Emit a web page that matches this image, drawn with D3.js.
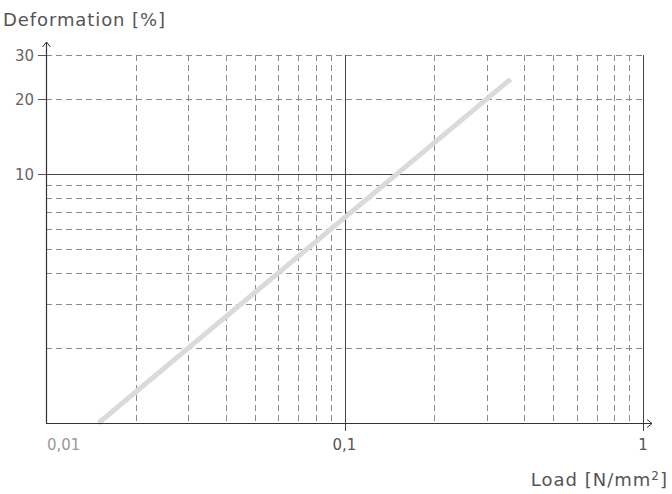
<!DOCTYPE html>
<html><head><meta charset="utf-8">
<script src="https://cdn.jsdelivr.net/npm/d3@7"></script>
<style>
body{margin:0;background:#fff;}
text{font-family:"DejaVu Sans",Roboto,sans-serif;fill:#555;}
</style></head>
<body><svg id="c" width="672" height="494"></svg>
<script>
// Data
const loads = [0.015, 0.36];          // N/mm²
const deformations = [1, 24];         // %
const xMajor = [0.01, 0.1, 1];
const xLabels = ["0,01", "0,1", "1"];
const yMajor = [10, 20, 30];
const yLabels = ["10", "20", "30"];
const xMinor = [0.02,0.03,0.04,0.05,0.06,0.07,0.08,0.09,0.2,0.3,0.4,0.5,0.6,0.7,0.8,0.9];
const yMinor = [2,3,4,5,6,7,8,9,20,30];

const svg = d3.select("#c");
const x = d3.scaleLog().domain([0.01, 1]).range([46, 643]);
const y = d3.scaleLog().domain([1, 30]).range([423, 55]);

const g = svg.append("g");
// minor grid
g.selectAll(".vx").data(xMinor).join("line")
  .attr("x1", d => Math.round(x(d)) + 0.5).attr("x2", d => Math.round(x(d)) + 0.5)
  .attr("y1", y(30)).attr("y2", y(1))
  .attr("stroke", "#8a8a8a").attr("stroke-width", 1).attr("stroke-dasharray", "6,4");
g.selectAll(".hy").data(yMinor).join("line")
  .attr("y1", d => Math.round(y(d)) + 0.5).attr("y2", d => Math.round(y(d)) + 0.5)
  .attr("x1", x(0.01)).attr("x2", x(1))
  .attr("stroke", "#8a8a8a").attr("stroke-width", 1).attr("stroke-dasharray", "6,4");
// major grid
g.append("line").attr("x1", x(0.01)).attr("x2", x(1))
  .attr("y1", Math.round(y(10)) + 0.5).attr("y2", Math.round(y(10)) + 0.5)
  .attr("stroke", "#444").attr("stroke-width", 1);
[0.1, 1].forEach(v => {
  g.append("line").attr("x1", Math.round(x(v)) + 0.5).attr("x2", Math.round(x(v)) + 0.5)
    .attr("y1", y(30)).attr("y2", y(1) + 8)
    .attr("stroke", "#444").attr("stroke-width", 1);
});

// data line
const line = d3.line().x(d => x(d[0])).y(d => y(d[1]));
svg.append("path").datum(d3.zip(loads, deformations))
  .attr("d", line).attr("fill", "none").attr("stroke", "#dadada").attr("stroke-width", 5);

// axes
const ax = svg.append("g");
ax.append("line").attr("x1", 46.5).attr("x2", 46.5).attr("y1", 42).attr("y2", 423.5)
  .attr("stroke", "#333").attr("stroke-width", 1.2);
ax.append("path").attr("d", "M42.5,47 L46.5,42 L50.5,47").attr("fill", "none").attr("stroke", "#333");
ax.append("line").attr("x1", 46).attr("x2", 652).attr("y1", 423.5).attr("y2", 423.5)
  .attr("stroke", "#333").attr("stroke-width", 1.2);
ax.append("path").attr("d", "M647,419.5 L652,423.5 L647,427.5").attr("fill", "none").attr("stroke", "#333");

// y ticks
yMajor.forEach((v, i) => {
  const yy = Math.round(y(v)) + 0.5;
  ax.append("line").attr("x1", 38).attr("x2", 46).attr("y1", yy).attr("y2", yy).attr("stroke", "#555");
  ax.append("text").attr("x", 34).attr("y", yy + 5).attr("text-anchor", "end")
    .attr("font-size", 15).style("fill", "#666").text(yLabels[i]);
});
// x labels
xMajor.forEach((v, i) => {
  ax.append("text").attr("x", i === 0 ? x(v) + 1 : x(v)).attr("y", 450)
    .attr("text-anchor", i === 0 ? "start" : "middle")
    .attr("font-size", 15)
    .style("fill", i === 0 ? "#999" : "#555")
    .text(xLabels[i]);
});

// titles
svg.append("text").attr("x", 3).attr("y", 26).attr("font-size", 18).style("fill", "#555")
  .attr("textLength", 162).attr("lengthAdjust", "spacing").text("Deformation [%]");
svg.append("text").attr("x", 668).attr("y", 486).attr("text-anchor", "end").attr("font-size", 18)
  .attr("letter-spacing", 1).style("fill", "#555")
  .html("Load [N/mm<tspan dy='-6' font-size='12'>2</tspan><tspan dy='6'>]</tspan>");
</script></body></html>
